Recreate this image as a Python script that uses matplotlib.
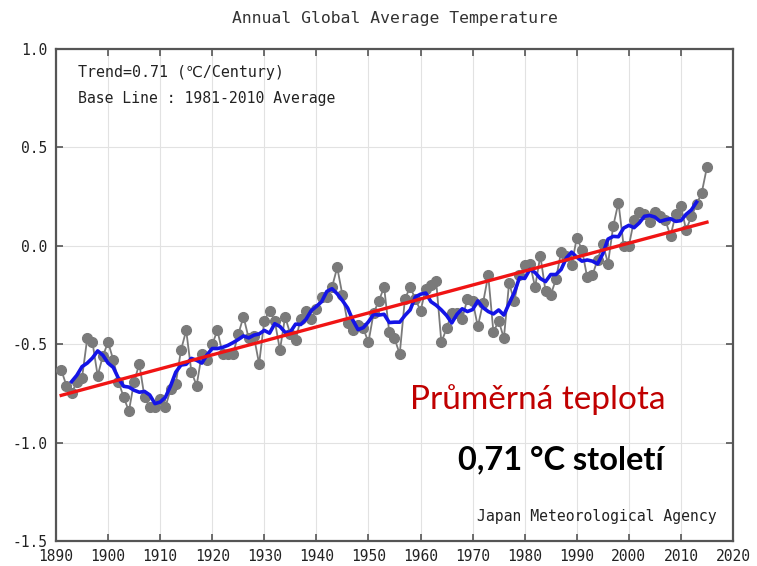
import numpy as np
import matplotlib
matplotlib.use("Agg")
import matplotlib.pyplot as plt

# ---- data ----
years = list(range(1891, 2016))
anomaly = [
    -0.63, -0.71, -0.75, -0.69, -0.67, -0.47, -0.49, -0.66, -0.56, -0.49,   # 1891-1900
    -0.58, -0.69, -0.77, -0.84, -0.69, -0.60, -0.77, -0.82, -0.82, -0.78,   # 1901-1910
    -0.82, -0.73, -0.70, -0.53, -0.43, -0.64, -0.71, -0.55, -0.58, -0.50,   # 1911-1920
    -0.43, -0.55, -0.55, -0.55, -0.45, -0.36, -0.47, -0.46, -0.60, -0.38,   # 1921-1930
    -0.33, -0.38, -0.53, -0.36, -0.45, -0.48, -0.37, -0.33, -0.37, -0.32,   # 1931-1940
    -0.26, -0.26, -0.21, -0.11, -0.25, -0.39, -0.43, -0.40, -0.42, -0.49,   # 1941-1950
    -0.34, -0.28, -0.21, -0.44, -0.47, -0.55, -0.27, -0.21, -0.27, -0.33,   # 1951-1960
    -0.22, -0.20, -0.18, -0.49, -0.42, -0.34, -0.34, -0.37, -0.27, -0.28,   # 1961-1970
    -0.41, -0.29, -0.15, -0.44, -0.38, -0.47, -0.19, -0.28, -0.15, -0.10,   # 1971-1980
    -0.09, -0.21, -0.05, -0.23, -0.25, -0.17, -0.03, -0.05, -0.10, 0.04,    # 1981-1990
    -0.02, -0.16, -0.15, -0.07, 0.01, -0.09, 0.10, 0.22, 0.00, 0.00,        # 1991-2000
    0.13, 0.17, 0.16, 0.12, 0.17, 0.15, 0.13, 0.05, 0.16, 0.20,             # 2001-2010
    0.08, 0.15, 0.21, 0.27, 0.40,                                           # 2011-2015
]
trend_years = [1891, 2015]
trend_values = [-0.76, 0.12]
running_window = 5

x_ticks = [1890, 1900, 1910, 1920, 1930, 1940, 1950, 1960, 1970, 1980, 1990, 2000, 2010, 2020]
y_ticks = [1.0, 0.5, 0.0, -0.5, -1.0, -1.5]
y_tick_labels = ["1.0", "0.5", "0.0", "-0.5", "-1.0", "-1.5"]

title = "Annual Global Average Temperature"
note1 = "Trend=0.71 (\u2103/Century)"
note2 = "Base Line : 1981-2010 Average"
source = "Japan Meteorological Agency"
cz1 = "Pr\u016fm\u011brn\u00e1 teplota"
cz2 = "0,71 \u00b0C stolet\u00ed"

# 5-year running mean (blue line of the original chart)
yrs = np.array(years)
vals = np.array(anomaly)
half = running_window // 2
run_mean = np.convolve(vals, np.ones(running_window) / running_window, mode="valid")
run_years = yrs[half:len(yrs) - half]

W, H = 757, 566
fig = plt.figure(figsize=(W / 100, H / 100), dpi=100)
ax = fig.add_axes([56 / W, 1 - 541 / H, (733 - 56) / W, (541 - 49) / H])

mono = ["DejaVu Sans Mono", "DejaVu Sans"]

ax.plot(yrs, vals, color="#7a7a7a", lw=1.3, marker="o", ms=7,
        mfc="#7a7a7a", mec="#7a7a7a", zorder=3)
ax.plot(run_years, run_mean, color="#1414e6", lw=2.6, zorder=4)
ax.plot(trend_years, trend_values, color="#f01414", lw=2.4, zorder=5)

ax.set_xlim(1890, 2020)
ax.set_ylim(-1.5, 1.0)
ax.set_xticks(x_ticks)
ax.set_xticklabels([str(t) for t in x_ticks], family=mono, fontsize=10.5, color="#222222")
ax.set_yticks(y_ticks)
ax.set_yticklabels(y_tick_labels, family=mono, fontsize=10.5, color="#222222")
ax.tick_params(direction="in", length=5, width=1.2, color="#555555",
               top=True, right=True, pad=6)
ax.grid(True, color="#e2e2e2", lw=0.8)
ax.set_axisbelow(True)
for s in ax.spines.values():
    s.set_color("#555555")
    s.set_linewidth(1.6)

fig.text(395 / W, 1 - 19 / H, title, family=mono, fontsize=11.8, color="#333333",
         ha="center", va="center")
fig.text(78 / W, 1 - 73 / H, note1, family=mono, fontsize=10.8, color="#222222",
         ha="left", va="center")
fig.text(78 / W, 1 - 98 / H, note2, family=mono, fontsize=10.6, color="#222222",
         ha="left", va="center")
fig.text(717 / W, 1 - 516 / H, source, family=mono, fontsize=10.6, color="#222222",
         ha="right", va="center")

fig.text(410 / W, 1 - 409 / H, cz1, family=["Lato", "DejaVu Sans"], fontsize=24,
         color="#c00000", ha="left", va="baseline")
fig.text(458 / W, 1 - 469 / H, cz2, family=["Lato", "DejaVu Sans"], fontsize=23.4,
         fontweight="bold", color="#000000", ha="left", va="baseline")

fig.savefig("out.png", dpi=100)
